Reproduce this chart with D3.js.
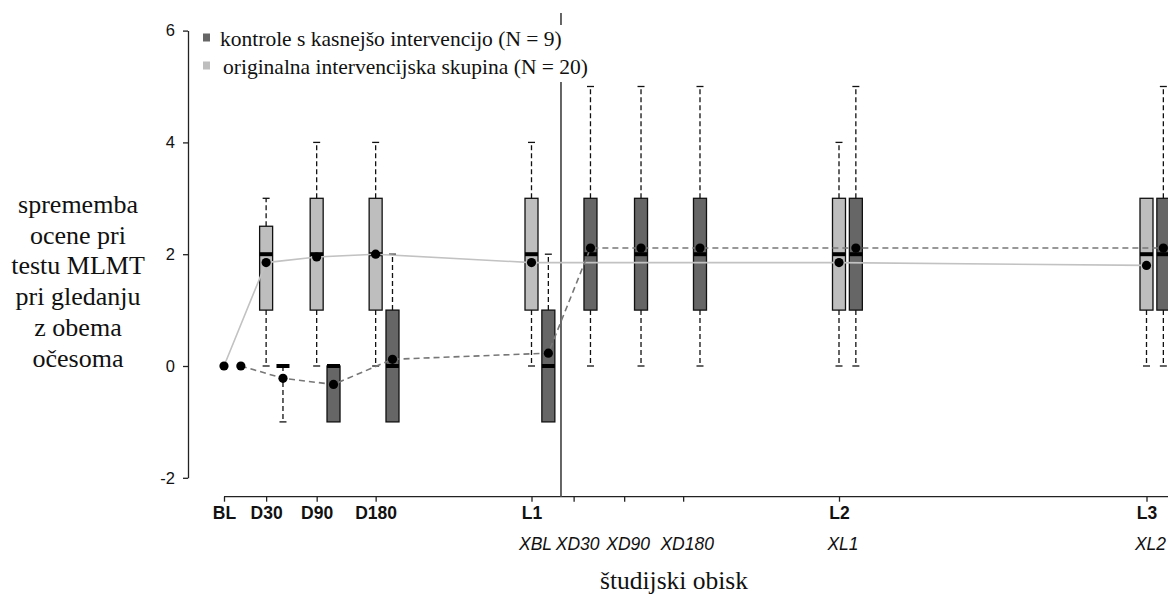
<!DOCTYPE html>
<html>
<head>
<meta charset="utf-8">
<script src="https://cdn.jsdelivr.net/npm/d3@7"></script>
<style>
  body { margin: 0; background: #fff; }
  svg { display: block; }
</style>
</head>
<body>
<svg id="chart" width="1168" height="598"></svg>
<script>
//^^^^^^^^^^^^^^^^^^^^^^^^^^^^^^^^^^^^^^^^^^^^^^^^^^^^^^^^^^^^^^^^^^^^^^^^^^^^^^
// Data: visits (plotting position in days) and the two groups
//------------------------------------------------------------------------------
var visits = ["BL","D30","D90","D180","L1","XD30","XD90","XD180","L2","L3"]
var visitDay = [0,50,110,180,365,415,475,545,730,1095]
var tickLabels = ["BL","D30","D90","D180","L1","","","","L2","L3"]
var crossLabels = ["","","","","XBL","XD30","XD90","XD180","XL1","XL2"]
var yTicks = [-2,0,2,4,6]
var crossoverDay = 400
var ctrlShift = 20

// originalna intervencijska skupina: box = [min, q1, median, q3, max]
var origVisits = ["BL","D30","D90","D180","L1","L2","L3"]
var origMean = [0,1.85,1.95,2,1.85,1.85,1.8]
var origBox = [null,[0,1,2,2.5,3],[0,1,2,3,4],[0,1,2,3,4],[0,1,2,3,4],[0,1,2,3,4],[0,1,2,3,3]]

// kontrole s kasnejšo intervencijo
var ctrlVisits = ["BL","D30","D90","D180","L1","XD30","XD90","XD180","L2","L3"]
var ctrlMean = [0,-0.22,-0.33,0.12,0.23,2.11,2.11,2.11,2.11,2.11]
var ctrlBox = [null,[-1,0,0,0,0],[-1,-1,0,0,0],[-1,-1,0,1,2],[-1,-1,0,1,2],[0,1,2,3,5],[0,1,2,3,5],[0,1,2,3,5],[0,1,2,3,5],[0,1,2,3,5]]

var legendLabels = ["kontrole s kasnejšo intervencijo (N = 9)","originalna intervencijska skupina (N = 20)"]
var yTitle = ["sprememba","ocene pri","testu MLMT","pri gledanju","z obema","očesoma"]
var xTitle = "študijski obisk"

//^^^^^^^^^^^^^^^^^^^^^^^^^^^^^^^^^^^^^^^^^^^^^^^^^^^^^^^^^^^^^^^^^^^^^^^^^^^^^^
// Setup
//------------------------------------------------------------------------------
var svg = d3.select("#chart"),
    W = 1168, H = 598,
    serif = "'Liberation Serif', 'Times New Roman', serif",
    sans = "'Liberation Sans', Arial, sans-serif",
    lightFill = "#bebebe",
    darkFill = "#666666",
    boxW = 13,
    axisY = 496.7,
    axisX = 188

var x = d3.scaleLinear().domain([0,1095]).range([224,1146.5])
var y = d3.scaleLinear().domain([-2,6]).range([477.8,30.6])

function dayOf(v) { return visitDay[visits.indexOf(v)] }

var orig = origVisits.map(function(v,i){
  return {day: dayOf(v), mean: origMean[i], box: origBox[i]}
})
var ctrl = ctrlVisits.map(function(v,i){
  return {day: dayOf(v)+ctrlShift, mean: ctrlMean[i], box: ctrlBox[i]}
})

//^^^^^^^^^^^^^^^^^^^^^^^^^^^^^^^^^^^^^^^^^^^^^^^^^^^^^^^^^^^^^^^^^^^^^^^^^^^^^^
// Axes
//------------------------------------------------------------------------------
var yAxis = svg.append("g")
  .attr("transform","translate("+axisX+",0)")
  .call(d3.axisLeft(y).tickValues(yTicks).tickSize(5).tickSizeOuter(0).tickPadding(8)
    .tickFormat(function(d){ return String(d) }))
yAxis.selectAll("path,line").attr("stroke","#222").attr("stroke-width",1.3)
yAxis.selectAll("text")
  .attr("font-family",sans).attr("font-size",16.5).attr("fill","#111")

var xAxis = svg.append("g")
  .attr("transform","translate(0,"+axisY+")")
  .call(d3.axisBottom(x).tickValues(visitDay).tickSize(5).tickSizeOuter(0).tickPadding(6)
    .tickFormat(function(d,i){ return tickLabels[i] }))
xAxis.select(".domain").remove()
xAxis.selectAll("line").attr("stroke","#222").attr("stroke-width",1.3)
xAxis.selectAll("text")
  .attr("font-family",sans).attr("font-size",17.5).attr("font-weight","bold").attr("fill","#111")
  .attr("dy",null).attr("y",22)
xAxis.append("line")
  .attr("x1",x(0)).attr("x2",W+2)
  .attr("stroke","#222").attr("stroke-width",1.3)

svg.append("g").selectAll("text")
  .data(visitDay)
  .enter().append("text")
    .attr("x",function(d){ return x(d)+4 })
    .attr("y",axisY+53)
    .attr("text-anchor","middle")
    .attr("font-family",sans).attr("font-size",17.5).attr("font-style","italic").attr("fill","#111")
    .text(function(d,i){ return crossLabels[i] })

// axis titles
svg.append("text")
  .attr("text-anchor","middle")
  .attr("font-family",serif).attr("font-size",26).attr("fill","#111")
  .selectAll("tspan").data(yTitle).enter().append("tspan")
    .attr("x",78).attr("y",function(d,i){ return 213+i*30.7 })
    .text(function(d){ return d })

svg.append("text")
  .attr("x",674).attr("y",589)
  .attr("text-anchor","middle")
  .attr("font-family",serif).attr("font-size",25.5).attr("fill","#111")
  .text(xTitle)

//^^^^^^^^^^^^^^^^^^^^^^^^^^^^^^^^^^^^^^^^^^^^^^^^^^^^^^^^^^^^^^^^^^^^^^^^^^^^^^
// Crossover line
//------------------------------------------------------------------------------
svg.append("line")
  .attr("x1",x(crossoverDay)).attr("x2",x(crossoverDay))
  .attr("y1",13).attr("y2",axisY)
  .attr("stroke","#555").attr("stroke-width",1.8)

//^^^^^^^^^^^^^^^^^^^^^^^^^^^^^^^^^^^^^^^^^^^^^^^^^^^^^^^^^^^^^^^^^^^^^^^^^^^^^^
// Boxplots
//------------------------------------------------------------------------------
function boxes(data,fill) {
  var g = svg.append("g")
  data.filter(function(d){ return d.box }).forEach(function(d){
    var cx = x(d.day), b = d.box,
        bg = g.append("g")

    var whisk = []
    if (b[4] > b[3]) whisk.push([b[3],b[4]])
    if (b[0] < b[1]) whisk.push([b[1],b[0]])
    whisk.forEach(function(w){
      bg.append("line")
        .attr("x1",cx).attr("x2",cx)
        .attr("y1",y(w[0])).attr("y2",y(w[1]))
        .attr("stroke","#111").attr("stroke-width",1.3).attr("stroke-dasharray","5,3")
      bg.append("line")
        .attr("x1",cx-3.5).attr("x2",cx+3.5)
        .attr("y1",y(w[1])).attr("y2",y(w[1]))
        .attr("stroke","#111").attr("stroke-width",1.3)
    })

    if (b[3] > b[1]) {
      bg.append("rect")
        .attr("x",cx-boxW/2).attr("width",boxW)
        .attr("y",y(b[3])).attr("height",y(b[1])-y(b[3]))
        .attr("fill",fill).attr("stroke","#111").attr("stroke-width",1.3)
    }

    bg.append("line")
      .attr("x1",cx-boxW/2).attr("x2",cx+boxW/2)
      .attr("y1",y(b[2])).attr("y2",y(b[2]))
      .attr("stroke","#000").attr("stroke-width",4)
  })
}

boxes(orig,lightFill)
boxes(ctrl,darkFill)

//^^^^^^^^^^^^^^^^^^^^^^^^^^^^^^^^^^^^^^^^^^^^^^^^^^^^^^^^^^^^^^^^^^^^^^^^^^^^^^
// Mean lines and points
//------------------------------------------------------------------------------
var line = d3.line()
  .x(function(d){ return x(d.day) })
  .y(function(d){ return y(d.mean) })

svg.append("path")
  .datum(orig)
  .attr("d",line)
  .attr("fill","none").attr("stroke","#c2c2c2").attr("stroke-width",1.6)

svg.append("path")
  .datum(ctrl)
  .attr("d",line)
  .attr("fill","none").attr("stroke","#777").attr("stroke-width",1.6).attr("stroke-dasharray","6,4")

svg.append("g").selectAll("circle")
  .data(orig.concat(ctrl))
  .enter().append("circle")
    .attr("cx",function(d){ return x(d.day) })
    .attr("cy",function(d){ return y(d.mean) })
    .attr("r",4.6)
    .attr("fill","#000")

//^^^^^^^^^^^^^^^^^^^^^^^^^^^^^^^^^^^^^^^^^^^^^^^^^^^^^^^^^^^^^^^^^^^^^^^^^^^^^^
// Legend
//------------------------------------------------------------------------------
var legend = svg.append("g")
legend.append("rect")
  .attr("x",196).attr("y",25).attr("width",396).attr("height",57)
  .attr("fill","#fff")

legend.selectAll("g")
  .data(legendLabels)
  .enter().append("g")
    .each(function(d,i){
      var g = d3.select(this),
          base = 46+i*28
      g.append("rect")
        .attr("x",203).attr("y",base-12.5).attr("width",7).attr("height",8)
        .attr("fill",i == 0 ? darkFill : lightFill)
      g.append("text")
        .attr("x",i == 0 ? 220 : 223).attr("y",base)
        .attr("font-family",serif).attr("font-size",21.5).attr("fill","#111")
        .text(d)
    })
</script>
</body>
</html>
